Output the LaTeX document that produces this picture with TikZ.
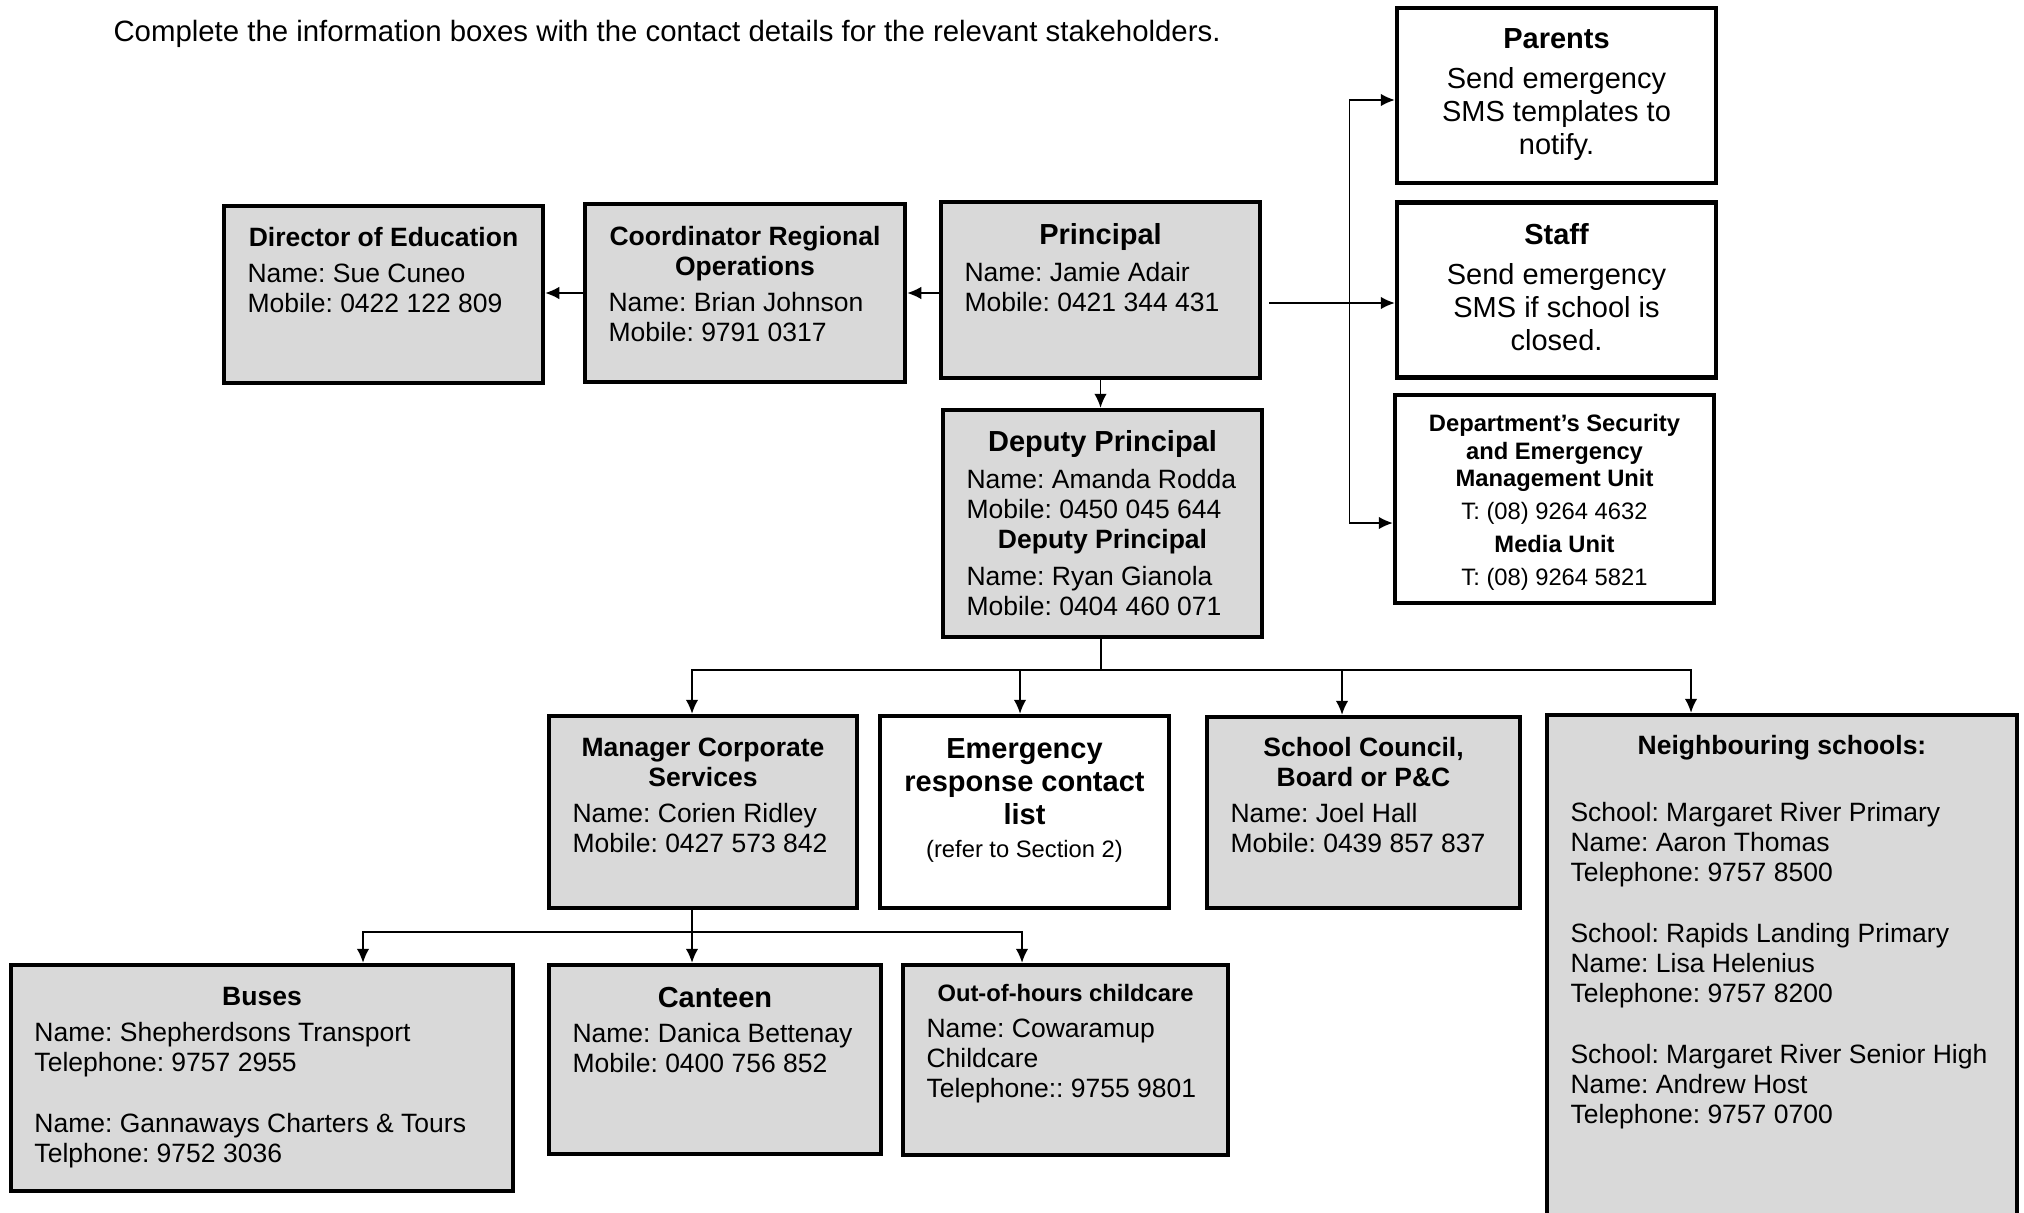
\documentclass[tikz,border=0pt]{standalone}
\usepackage{fontspec}
\setmainfont{Liberation Sans}
\usetikzlibrary{arrows.meta}
\definecolor{boxgrey}{HTML}{D9D9D9}
\frenchspacing
\hyphenpenalty=10000
\exhyphenpenalty=10000
\newcommand{\bodysize}{\fontsize{10.6}{12}\selectfont}
\newcommand{\bigsize}{\fontsize{11.6}{13.3}\selectfont}
\newcommand{\smallsize}{\fontsize{9.5}{11}\selectfont}
\newcommand{\bigtitle}[1]{{\centering\bigsize\bfseries #1\par}}
\newcommand{\midtitle}[1]{{\centering\bfseries #1\par}}
\newcommand{\smalltitle}[1]{{\centering\smallsize\bfseries #1\par}}
\tikzstyle{info}=[draw,fill=boxgrey,line width=1.8pt,inner sep=0pt]
\tikzstyle{notice}=[draw,fill=white,line width=1.8pt,inner sep=0pt]
\tikzstyle{txt}=[inner sep=0pt,anchor=base,align=flush left,font=\bodysize]
\tikzstyle{line} = [draw, line width=0.6pt, -{Latex[length=5.6pt,width=5pt]}]

\begin{document}
\begin{tikzpicture}[x=0.4pt,y=-0.4pt]
  \useasboundingbox (0,0) rectangle (2024,1212);
  \node[txt,anchor=base west,font=\fontsize{11.75}{13.5}\selectfont] (intro) at (113,42) {Complete the information boxes with the contact details for the relevant stakeholders.};

  % top row
  \node[info,minimum width=127.6pt,minimum height=70.8pt] (director) at (383.5,294.5) {};
  \node[txt,text width=108.8pt] (directortext) at (383.5,246.5) {\midtitle{Director of Education}\vspace{2.4pt}Name: Sue Cuneo\\Mobile: 0422 122 809};
  \node[info,minimum width=128pt,minimum height=71.2pt] (coord) at (745,293) {};
  \node[txt,text width=109.2pt] (coordtext) at (745,245.5) {\midtitle{Coordinator Regional\\Operations}\vspace{2.4pt}Name: Brian Johnson\\Mobile: 9791 0317};
  \node[info,minimum width=127.6pt,minimum height=70.4pt] (principal) at (1100.5,290) {};
  \node[txt,text width=108.8pt] (principaltext) at (1100.5,244.4) {\bigtitle{Principal}\vspace{2.8pt}Name: Jamie Adair\\Mobile: 0421 344 431};

  % notify column
  \node[notice,minimum width=127.6pt,minimum height=70pt] (parents) at (1556.5,95.5) {};
  \node[txt,text width=108.8pt,align=flush center,font=\bigsize] (parentstext) at (1556.5,48.4) {\bigtitle{Parents}\vspace{2.7pt}Send emergency\\SMS templates to\\notify.};
  \node[notice,minimum width=127.6pt,minimum height=70pt] (staff) at (1556.5,290) {};
  \node[txt,text width=108.8pt,align=flush center,font=\bigsize] (stafftext) at (1556.5,244.4) {\bigtitle{Staff}\vspace{2.7pt}Send emergency\\SMS if school is\\closed.};
  \node[notice,minimum width=127.6pt,minimum height=83.2pt] (dept) at (1554.5,499) {};
  \node[txt,text width=108.8pt,align=flush center] (depttext) at (1554.5,431.5) {\smalltitle{Department's Security\\and Emergency\\Management Unit}\vspace{2.2pt}{\smallsize T: (08) 9264 4632\par}\vspace{2.2pt}\smalltitle{Media Unit}\vspace{2.2pt}{\smallsize T: (08) 9264 5821\par}};

  % deputies
  \node[info,minimum width=127.6pt,minimum height=90.8pt] (deputy) at (1102.5,523.5) {};
  \node[txt,text width=108.8pt] (deputytext) at (1102.5,451.4) {\bigtitle{Deputy Principal}\vspace{2.8pt}Name: Amanda Rodda\\Mobile: 0450 045 644\par\midtitle{Deputy Principal}\vspace{2.8pt}Name: Ryan Gianola\\Mobile: 0404 460 071};

  % second row
  \node[info,minimum width=123.2pt,minimum height=76.8pt] (manager) at (703,812) {};
  \node[txt,text width=104.4pt] (managertext) at (703,756) {\midtitle{Manager Corporate\\Services}\vspace{2.4pt}Name: Corien Ridley\\Mobile: 0427 573 842};
  \node[notice,minimum width=115.6pt,minimum height=76.8pt] (emergency) at (1024.5,812) {};
  \node[txt,text width=103.6pt,align=flush center,font=\bigsize] (emergencytext) at (1024.5,758.4) {{\bfseries Emergency\\response contact\\list\par}\vspace{2.2pt}{\smallsize (refer to Section 2)\par}};
  \node[info,minimum width=125.2pt,minimum height=76.4pt] (council) at (1363.5,812.5) {};
  \node[txt,text width=106.4pt] (counciltext) at (1363.5,756) {\midtitle{School Council,\\Board or P\&C}\vspace{2.4pt}Name: Joel Hall\\Mobile: 0439 857 837};
  \node[info,minimum width=188pt,minimum height=204pt] (neighbour) at (1782,970) {};
  \node[txt,text width=169.2pt] (neighbourtext) at (1782,754.5) {\midtitle{Neighbouring schools:}\vspace{14.8pt}School: Margaret River Primary\\Name: Aaron Thomas\\Telephone: 9757 8500\\[12.4pt]School: Rapids Landing Primary\\Name: Lisa Helenius\\Telephone: 9757 8200\\[12.4pt]School: Margaret River Senior High\\Name: Andrew Host\\Telephone: 9757 0700};

  % third row
  \node[info,minimum width=200.8pt,minimum height=90.4pt] (buses) at (262,1078) {};
  \node[txt,text width=182pt] (busestext) at (262,1005) {\midtitle{Buses}\vspace{2.4pt}Name: Shepherdsons Transport\\Telephone: 9757 2955\\[12.4pt]Name: Gannaways Charters \& Tours\\Telphone: 9752 3036};
  \node[info,minimum width=132.8pt,minimum height=75.6pt] (canteen) at (715,1059.5) {};
  \node[txt,text width=114pt] (canteentext) at (715,1007.4) {\bigtitle{Canteen}\vspace{2pt}Name: Danica Bettenay\\Mobile: 0400 756 852};
  \node[info,minimum width=130pt,minimum height=76pt] (ooh) at (1065.5,1060) {};
  \node[txt,text width=111.2pt] (oohtext) at (1065.5,1001.5) {\smalltitle{Out-of-hours childcare}\vspace{2.4pt}Name: Cowaramup\\Childcare\\Telephone:: 9755 9801};

  % connectors
  \draw[line] (principal.west |- coord.west) -- (coord.east);
  \draw[line] (coord.west) -- (coord.west -| director.east);
  \draw[line] ([xshift=2.8pt,yshift=-5.2pt]principal.east) -- ([yshift=-5.2pt]staff.west);
  \coordinate (fork) at (1349.5,303);
  \draw[line] (fork) |- ([yshift=-1.8pt]parents.west);
  \draw[line] (fork) |- ([yshift=-9.6pt]dept.west);
  \draw[line] (principal.south) -- (principal.south |- deputy.north);

  \coordinate (djoin) at (1101,670);
  \draw[line width=0.6pt] (deputy.south -| djoin) -- (djoin);
  \draw[line] (djoin) -| ([xshift=-4.4pt]manager.north);
  \draw[line] (djoin) -| ([xshift=-1.8pt]emergency.north);
  \draw[line] (djoin) -| ([xshift=-8.6pt]council.north);
  \draw[line] (djoin) -| ([xshift=-36.4pt]neighbour.north);

  \coordinate (mjoin) at (692,932);
  \draw[line width=0.6pt] (manager.south -| mjoin) -- (mjoin);
  \draw[line] (mjoin) -| ([xshift=40.4pt]buses.north);
  \draw[line] (mjoin) -- (mjoin |- canteen.north);
  \draw[line] (mjoin) -| ([xshift=-17.4pt]ooh.north);
\end{tikzpicture}
\end{document}
